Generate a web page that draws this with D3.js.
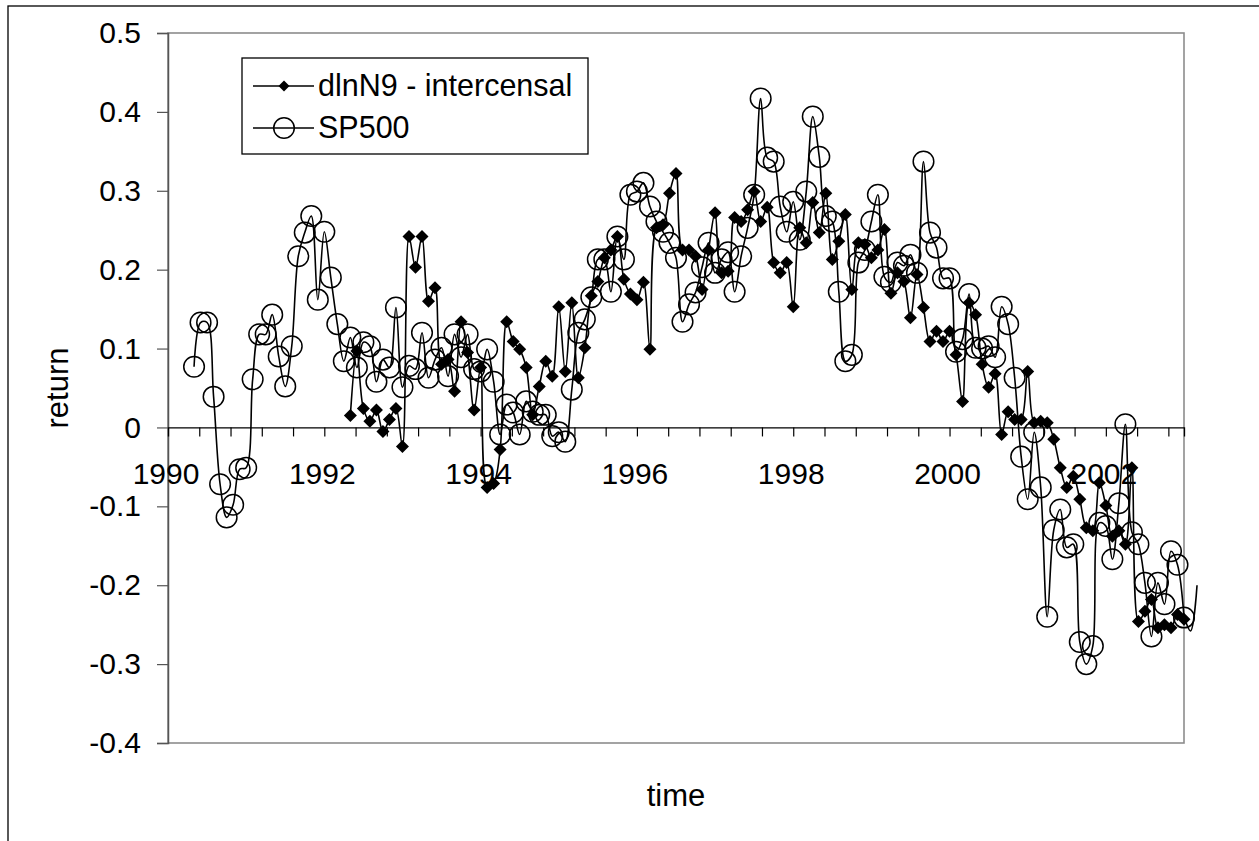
<!DOCTYPE html>
<html><head><meta charset="utf-8">
<script src="https://cdn.jsdelivr.net/npm/d3@7"></script>
<style>body{margin:0;background:#fff;} svg{display:block;font-family:"Liberation Sans",Arial,sans-serif;}</style>
</head><body>
<svg id="c" width="1259" height="841"></svg>
<script>
// ---- data ----
const spStart = [1990, 5];   // first SP500 observation (year, month)
const dlnStart = [1992, 5];  // first dlnN9 observation (year, month)
const sp500 = [0.077,0.133,0.133,0.039,-0.072,-0.114,-0.098,-0.053,-0.051,0.061,
0.118,0.118,0.143,0.090,0.052,0.103,0.217,0.247,0.268,0.162,
0.248,0.190,0.131,0.084,0.114,0.076,0.108,0.103,0.058,0.086,
0.076,0.152,0.051,0.078,0.074,0.120,0.063,0.086,0.101,0.065,
0.118,0.089,0.118,0.074,0.071,0.099,0.058,-0.009,0.029,0.019,
-0.009,0.033,0.020,0.016,0.016,-0.011,-0.006,-0.018,0.048,0.120,
0.137,0.165,0.213,0.213,0.172,0.242,0.213,0.295,0.299,0.310,
0.280,0.261,0.248,0.234,0.215,0.134,0.156,0.171,0.203,0.234,
0.196,0.213,0.222,0.172,0.217,0.253,0.295,0.417,0.342,0.337,
0.280,0.248,0.286,0.238,0.299,0.394,0.343,0.268,0.261,0.172,
0.084,0.092,0.209,0.225,0.261,0.295,0.191,0.184,0.209,0.205,
0.219,0.196,0.337,0.247,0.228,0.189,0.189,0.096,0.112,0.169,
0.101,0.100,0.103,0.089,0.153,0.131,0.063,-0.037,-0.091,-0.006,
-0.076,-0.240,-0.130,-0.104,-0.152,-0.148,-0.272,-0.300,-0.277,-0.121,
-0.125,-0.167,-0.096,0.004,-0.133,-0.148,-0.197,-0.265,-0.197,-0.224,
-0.157,-0.174,-0.241];
const dlnN9 = [0.015,0.097,0.024,0.008,0.022,-0.005,0.010,0.024,-0.024,0.242,
0.203,0.242,0.160,0.177,0.080,0.086,0.046,0.134,0.095,0.022,
0.076,-0.076,-0.071,-0.028,0.134,0.109,0.099,0.076,0.016,0.052,
0.084,0.065,0.153,0.071,0.158,0.063,0.101,0.167,0.185,0.215,
0.225,0.242,0.188,0.169,0.162,0.184,0.099,0.253,0.257,0.297,
0.322,0.225,0.225,0.217,0.175,0.225,0.272,0.196,0.198,0.266,
0.261,0.276,0.299,0.261,0.279,0.209,0.196,0.209,0.153,0.253,
0.234,0.285,0.247,0.297,0.213,0.236,0.270,0.175,0.234,0.232,
0.215,0.225,0.251,0.170,0.196,0.185,0.139,0.194,0.152,0.109,
0.122,0.109,0.122,0.092,0.033,0.158,0.143,0.080,0.051,0.068,
-0.009,0.020,0.010,0.010,0.071,0.006,0.008,0.006,-0.015,-0.051,
-0.076,-0.062,-0.091,-0.127,-0.131,-0.070,-0.099,-0.138,-0.131,-0.148,
-0.051,-0.246,-0.233,-0.218,-0.254,-0.250,-0.254,-0.237,-0.243,-0.258,
-0.200];
const seriesNames = ["dlnN9 - intercensal", "SP500"];
const yTicks = [-0.4,-0.3,-0.2,-0.1,0,0.1,0.2,0.3,0.4,0.5];
const xLabels = [1990,1992,1994,1996,1998,2000,2002];
const xMinor = 0.4;
const xTitle = "time", yTitle = "return";

// ---- layout ----
const svg = d3.select("#c");
const L = 168, R = 1184, T = 33, B = 743;
const x = d3.scaleLinear().domain([1990, 2003]).range([L, R]);
const y = d3.scaleLinear().domain([-0.4, 0.5]).range([B, T]);
const toPts = (start, vals) => vals.map((v, i) => ({t: start[0] + (start[1] - 1 + i) / 12, v}));
const spPts = toPts(spStart, sp500);
const dlPts = toPts(dlnStart, dlnN9);

svg.append("rect").attr("width",1259).attr("height",841).attr("fill","#fff");
// outer chart frame (cropped on right/bottom)
svg.append("rect").attr("x",8).attr("y",6).attr("width",1400).attr("height",1000)
  .attr("fill","none").attr("stroke","#000").attr("stroke-width",1.3);
// plot area
svg.append("rect").attr("x",L).attr("y",T).attr("width",R-L).attr("height",B-T)
  .attr("fill","#fff").attr("stroke","#8c8c8c").attr("stroke-width",1.6);

// y axis
const fmt = d => Math.abs(d) < 1e-9 ? "0" : d.toFixed(1);
const yAxis = svg.append("g").attr("transform",`translate(${L},0)`)
  .call(d3.axisLeft(y).tickValues(yTicks).tickSize(11).tickPadding(16).tickFormat(fmt));
yAxis.select(".domain").attr("stroke","#555").attr("stroke-width",1.5);
yAxis.selectAll(".tick line").attr("stroke","#555").attr("stroke-width",1.2);
yAxis.selectAll("text").attr("font-size",30).attr("fill","#000").attr("font-family","'Liberation Sans',Arial,sans-serif");

// x axis at y = 0
const y0 = y(0);
const minorTicks = d3.range(0, Math.round((2003-1990)/xMinor)).map(k => 1990 + k*xMinor).filter(t => t > 1990.01);
const xAxis = svg.append("g").attr("transform",`translate(0,${y0})`)
  .call(d3.axisBottom(x).tickValues(minorTicks).tickSize(9).tickFormat(""));
xAxis.select(".domain").attr("stroke","#000").attr("stroke-width",1.3);
xAxis.selectAll(".tick line").attr("stroke","#000").attr("stroke-width",1.2);
svg.append("g").selectAll("text").data(xLabels).join("text")
  .attr("x", d => x(d) - 2).attr("y", y0 + 57).attr("text-anchor","middle")
  .attr("font-size",30).attr("fill","#000").text(d => d);

// titles
svg.append("text").attr("x", (L+R)/2).attr("y", 806).attr("text-anchor","middle")
  .attr("font-size",31).text(xTitle);
svg.append("text").attr("transform",`translate(68,${(T+B)/2}) rotate(-90)`).attr("text-anchor","middle")
  .attr("font-size",31).text(yTitle);

// series
const line = d3.line().x(d => x(d.t)).y(d => y(d.v)).curve(d3.curveCatmullRom.alpha(0.5));
const diamondPath = "M0,-6.5L6.5,0L0,6.5L-6.5,0Z";
function drawSeries(pts, kind) {
  const g = svg.append("g");
  g.append("path").datum(pts).attr("d", line).attr("fill","none").attr("stroke","#000").attr("stroke-width",1.6);
  const inside = pts.filter(d => d.t <= 2003.001);
  if (kind === "diamond") {
    g.selectAll("path.m").data(inside).join("path").attr("class","m")
      .attr("transform", d => `translate(${x(d.t)},${y(d.v)})`).attr("d", diamondPath).attr("fill","#000");
  } else {
    g.selectAll("circle").data(inside).join("circle")
      .attr("cx", d => x(d.t)).attr("cy", d => y(d.v)).attr("r", 10.3)
      .attr("fill","none").attr("stroke","#000").attr("stroke-width",1.5);
  }
}
drawSeries(dlPts, "diamond");
drawSeries(spPts, "circle");

// legend
const lg = svg.append("g");
lg.append("rect").attr("x",242).attr("y",58).attr("width",346).attr("height",96)
  .attr("fill","#fff").attr("stroke","#000").attr("stroke-width",1.3);
const rows = [{name: seriesNames[0], kind:"diamond", yy: 86}, {name: seriesNames[1], kind:"circle", yy: 128}];
rows.forEach(r => {
  lg.append("line").attr("x1",253).attr("x2",314).attr("y1",r.yy).attr("y2",r.yy).attr("stroke","#000").attr("stroke-width",1.6);
  if (r.kind === "diamond") lg.append("path").attr("transform",`translate(284,${r.yy})`).attr("d", "M0,-5.5L5.5,0L0,5.5L-5.5,0Z").attr("fill","#000");
  else lg.append("circle").attr("cx",284).attr("cy",r.yy).attr("r",10.3).attr("fill","none").attr("stroke","#000").attr("stroke-width",1.5);
  lg.append("text").attr("x",318).attr("y",r.yy+10).attr("font-size",30.5).text(r.name);
});
</script>
</body></html>
